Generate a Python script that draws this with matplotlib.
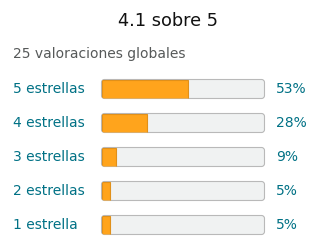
import matplotlib.pyplot as plt
from matplotlib.patches import FancyBboxPatch, Rectangle

# rating data
labels = ['5 estrellas', '4 estrellas', '3 estrellas', '2 estrellas', '1 estrella']
percents = [53, 28, 9, 5, 5]
title = '4.1 sobre 5'
subtitle = '25 valoraciones globales'

teal = '#007185'
orange = '#ffa41c'

fig = plt.figure(figsize=(3.2, 2.52), dpi=100)
ax = fig.add_axes([0, 0, 1, 1])
ax.set_xlim(0, 320)
ax.set_ylim(252, 0)
ax.axis('off')

ax.text(168, 21, title, ha='center', va='center', fontsize=12.8, color='#111111')
ax.text(13, 54, subtitle, ha='left', va='center', fontsize=10, color='#565959')

bar_x, bar_w, bar_h = 101.5, 163, 19
y0, dy = 89, 34
for i, (lab, p) in enumerate(zip(labels, percents)):
    yc = y0 + i * dy
    ax.text(13, yc, lab, ha='left', va='center', fontsize=10, color=teal)
    ax.text(276, yc, f'{p}%', ha='left', va='center', fontsize=10, color=teal)
    bg = FancyBboxPatch((bar_x, yc - bar_h / 2), bar_w, bar_h,
                        boxstyle='round,pad=0,rounding_size=3',
                        facecolor='#f0f2f2', edgecolor='#b9b9b9', lw=0.8)
    ax.add_patch(bg)
    fill = Rectangle((bar_x, yc - bar_h / 2), bar_w * p / 100, bar_h,
                     facecolor=orange, edgecolor='#e0901a', lw=0.8)
    ax.add_patch(fill)
    fill.set_clip_path(bg)

fig.savefig('out.png', dpi=100)
